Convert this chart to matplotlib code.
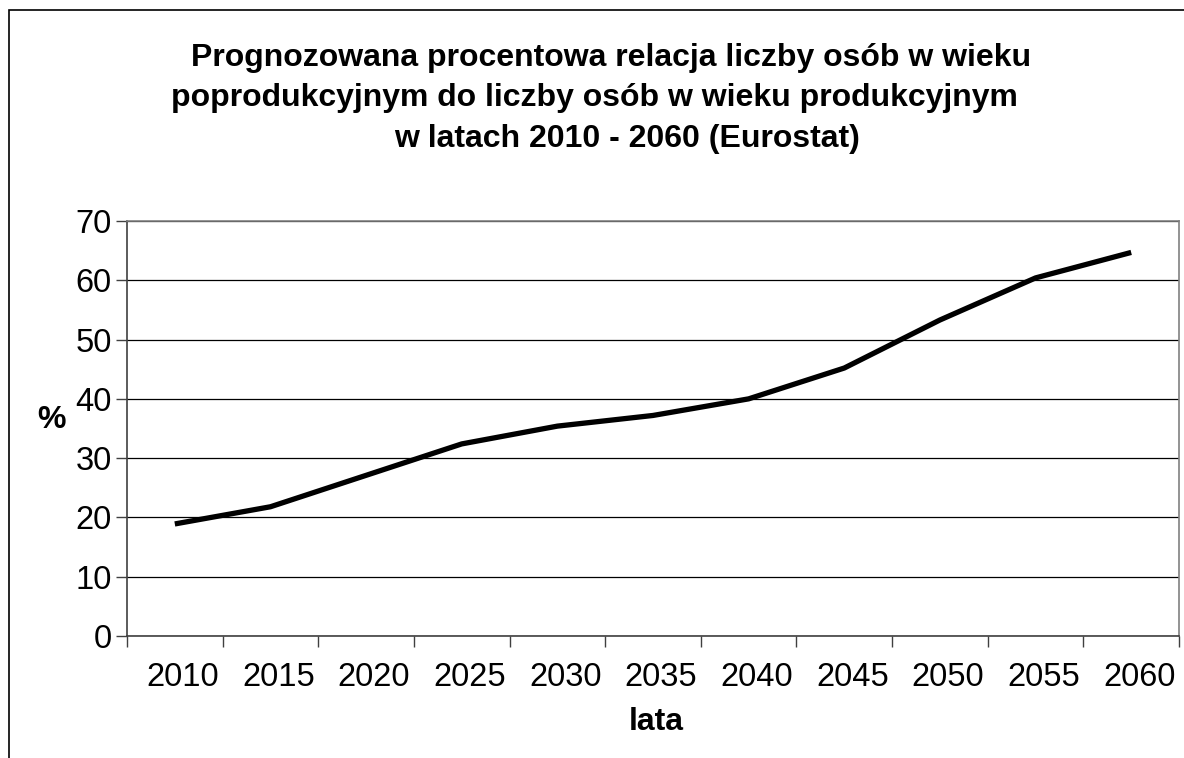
import matplotlib.pyplot as plt
import matplotlib.transforms as mtransforms
from matplotlib.patches import Rectangle

plt.rcParams['font.family'] = ['Liberation Sans', 'DejaVu Sans']

years = ['2010', '2015', '2020', '2025', '2030', '2035', '2040', '2045', '2050', '2055', '2060']
ratio = [18.9, 21.8, 27.1, 32.4, 35.4, 37.2, 40.0, 45.2, 53.3, 60.4, 64.7]

W, H = 1184, 758
fig = plt.figure(figsize=(W / 100, H / 100), dpi=100)

# outer chart frame (runs off the right and bottom edges)
fig.patches.append(Rectangle((9 / W, -0.1), 1.2, 1 - 10 / H + 0.1,
                             transform=fig.transFigure, fill=False,
                             edgecolor='black', lw=1.2))

ax = fig.add_axes([127 / W, 1 - 636 / H, (1179 - 127) / W, (636 - 221) / H])

x = list(range(len(years)))
ax.plot(x, ratio, color='black', lw=3.8, solid_capstyle='butt', zorder=3)

ax.set_xlim(-0.5, len(years) - 0.5)
ax.set_ylim(0, 70)
ax.set_yticks(range(0, 71, 10))
ax.yaxis.grid(True, color='black', lw=0.9)
ax.set_axisbelow(True)

# category boundaries get tick marks, labels sit at the centres
ax.set_xticks([i - 0.5 for i in range(len(years) + 1)])
ax.set_xticklabels([])
ax.set_xticks(x, minor=True)
ax.set_xticklabels(years, minor=True)
ax.tick_params(axis='x', which='minor', length=0, pad=19, labelsize=23.5)
ax.tick_params(axis='x', which='major', length=8, width=1, color='#404040')
ax.tick_params(axis='y', length=8, width=1, color='#404040', pad=3, labelsize=23.5)

shift = mtransforms.ScaledTranslation(8 / 100, 0, fig.dpi_scale_trans)
for lbl in ax.get_xticklabels(minor=True):
    lbl.set_transform(lbl.get_transform() + shift)

for s in ('top', 'right'):
    ax.spines[s].set_color('#808080')
    ax.spines[s].set_linewidth(1.2)
for s in ('left', 'bottom'):
    ax.spines[s].set_color('#404040')
    ax.spines[s].set_linewidth(1.2)

title_lines = [
    ('Prognozowana procentowa relacja liczby osób w wieku', 611, 66),
    ('poprodukcyjnym do liczby osób w wieku produkcyjnym', 594, 106),
    ('w latach 2010 - 2060 (Eurostat)', 627, 147),
]
for txt, cx, cy in title_lines:
    fig.text(cx / W, 1 - cy / H, txt, ha='center', va='baseline',
             fontsize=23, fontweight='bold')

fig.text(51 / W, 1 - 420 / H, '%', ha='center', va='center',
         fontsize=23, fontweight='bold')
fig.text(656 / W, 1 - 722 / H, 'lata', ha='center', va='center',
         fontsize=23, fontweight='bold')

fig.savefig('out.png', dpi=100, facecolor='white')
